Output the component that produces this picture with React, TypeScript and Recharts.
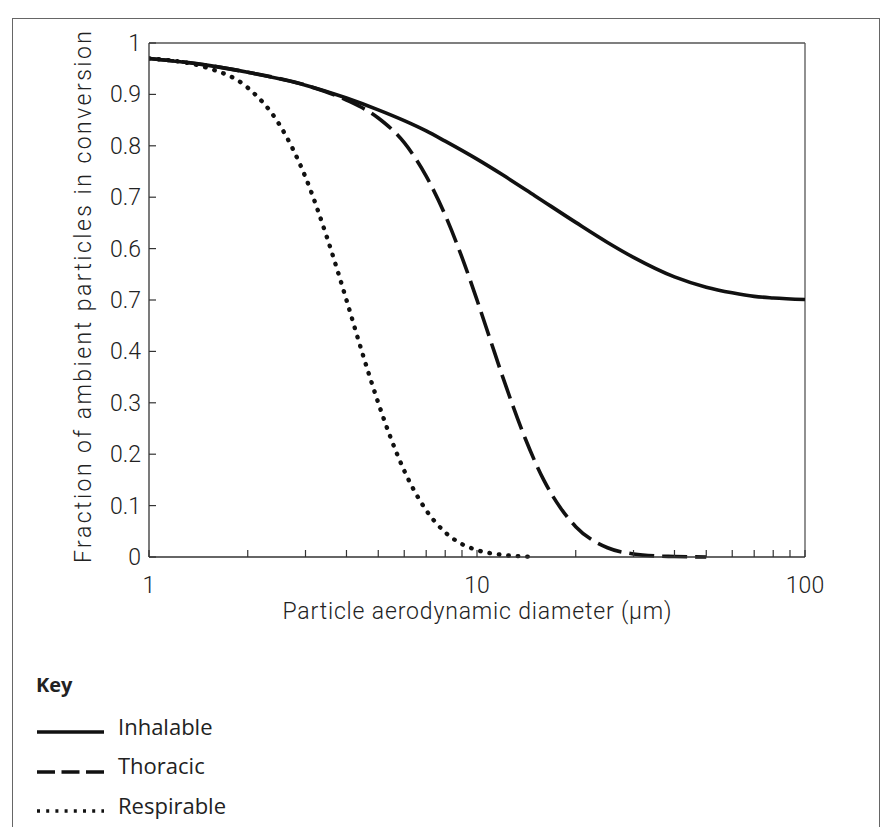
import { LineChart, Line, XAxis, YAxis, ReferenceLine, Legend } from 'recharts';

// particle diameter (µm) vs fraction collected
const inhalable = [
  { d: 1, v: 0.97 }, { d: 1.5, v: 0.957 }, { d: 2, v: 0.943 }, { d: 3, v: 0.918 },
  { d: 4, v: 0.893 }, { d: 5, v: 0.87 }, { d: 6, v: 0.849 }, { d: 7, v: 0.829 },
  { d: 8, v: 0.809 }, { d: 10, v: 0.774 }, { d: 12, v: 0.743 }, { d: 15, v: 0.703 },
  { d: 20, v: 0.651 }, { d: 25, v: 0.612 }, { d: 30, v: 0.583 }, { d: 40, v: 0.545 },
  { d: 50, v: 0.525 }, { d: 60, v: 0.514 }, { d: 70, v: 0.507 }, { d: 80, v: 0.504 },
  { d: 100, v: 0.501 },
];

const thoracic = [
  { d: 1, v: 0.97 }, { d: 1.5, v: 0.957 }, { d: 2, v: 0.943 }, { d: 3, v: 0.918 },
  { d: 4, v: 0.889 }, { d: 5, v: 0.854 }, { d: 6, v: 0.806 }, { d: 7, v: 0.741 },
  { d: 8, v: 0.665 }, { d: 9, v: 0.583 }, { d: 10, v: 0.5 }, { d: 11, v: 0.421 },
  { d: 12, v: 0.349 }, { d: 14, v: 0.232 }, { d: 16, v: 0.149 }, { d: 18, v: 0.095 },
  { d: 20, v: 0.059 }, { d: 25, v: 0.018 }, { d: 30, v: 0.006 }, { d: 35, v: 0.002 },
  { d: 40, v: 0.001 }, { d: 50, v: 0 },
];

const respirable = [
  { d: 1, v: 0.97 }, { d: 1.5, v: 0.952 }, { d: 2, v: 0.913 }, { d: 2.5, v: 0.841 },
  { d: 3, v: 0.739 }, { d: 3.5, v: 0.619 }, { d: 4, v: 0.5 }, { d: 4.5, v: 0.391 },
  { d: 5, v: 0.3 }, { d: 5.5, v: 0.226 }, { d: 6, v: 0.168 }, { d: 7, v: 0.091 },
  { d: 8, v: 0.048 }, { d: 9, v: 0.025 }, { d: 10, v: 0.0135 }, { d: 12, v: 0.004 },
  { d: 14, v: 0.001 }, { d: 15, v: 0 },
];

const xTicks = [1, 2, 3, 4, 5, 6, 7, 8, 9, 10, 20, 30, 40, 50, 60, 70, 80, 90, 100];
const xLabels = [1, 10, 100];
const yTicks = [0, 0.1, 0.2, 0.3, 0.4, 0.5, 0.6, 0.7, 0.8, 0.9, 1];
// labels as printed (the 0.5 position reads 0.7 in the original)
const yLabels = ['0', '0.1', '0.2', '0.3', '0.4', '0.7', '0.6', '0.7', '0.8', '0.9', '1'];

const series = [
  { name: 'Inhalable', data: inhalable, dash: undefined, cap: 'butt', width: 3.6, legendDash: undefined },
  { name: 'Thoracic', data: thoracic, dash: '25 8', cap: 'butt', width: 3.6, legendDash: '18 6.5' },
  { name: 'Respirable', data: respirable, dash: '0.5 9', cap: 'round', width: 4.4, legendDash: '3 6.2' },
];

const AXIS_FONT = 'Roboto, "DejaVu Sans", sans-serif';
const INK = '#111';

const XTick = (props: any) => {
  const { x, y, payload } = props;
  const major = xLabels.includes(payload.value);
  return (
    <g>
      <line x1={x} y1={y} x2={x} y2={y - 7} stroke="#333" strokeWidth={1.2} />
      {major && (
        <text x={x} y={y + 36} textAnchor="middle" fontFamily={AXIS_FONT} fontWeight={300} fontSize={23} fill="#222">
          {payload.value}
        </text>
      )}
    </g>
  );
};

const YTick = (props: any) => {
  const { x, y, payload } = props;
  const i = yTicks.indexOf(payload.value);
  return (
    <g>
      <line x1={x} y1={y} x2={x + 7} y2={y} stroke="#333" strokeWidth={1.2} />
      <text x={x - 8} y={y + 8} textAnchor="end" fontFamily={AXIS_FONT} fontWeight={300} fontSize={23} fill="#222">
        {yLabels[i]}
      </text>
    </g>
  );
};

const KeyLegend = () => (
  <div style={{ fontFamily: '"Open Sans", "Noto Sans", sans-serif', color: '#222' }}>
    <div style={{ fontWeight: 700, fontSize: 20, height: 30, lineHeight: '30px', marginBottom: 6 }}>Key</div>
    {series.map((s) => (
      <div key={s.name} style={{ display: 'flex', alignItems: 'center', height: 39.5 }}>
        <svg width={70} height={20} style={{ marginTop: 13 }}>
          <line x1={1} y1={10} x2={68} y2={10} stroke={INK} strokeWidth={3.4} strokeDasharray={s.legendDash} />
        </svg>
        <span style={{ fontSize: 22, marginLeft: 12 }}>{s.name}</span>
      </div>
    ))}
  </div>
);

export default function App() {
  return (
    <div style={{ position: 'absolute', left: 0, top: 0, width: 885, height: 827, background: '#fff', overflow: 'hidden' }}>
      <div
        style={{
          position: 'absolute', left: 12, top: 18, width: 866, height: 830,
          borderTop: '1.5px solid #666', borderLeft: '1.5px solid #666', borderRight: '1.5px solid #666',
        }}
      />
      <LineChart width={885} height={827} margin={{ top: 43, right: 80, bottom: 210, left: 0 }}>
        <XAxis
          dataKey="d"
          type="number"
          scale="log"
          domain={[1, 100]}
          ticks={xTicks}
          interval={0}
          allowDataOverflow
          height={60}
          tickSize={0}
          tickMargin={0}
          tickLine={false}
          axisLine={{ stroke: '#333', strokeWidth: 1.3 }}
          tick={<XTick />}
          label={{
            content: (p: any) => {
              const vb = p.viewBox;
              return (
                <text x={vb.x + vb.width / 2} y={619} textAnchor="middle" fontFamily={AXIS_FONT} fontWeight={300} fontSize={23} fill="#222" textLength={389} lengthAdjust="spacing">
                  Particle aerodynamic diameter (µm)
                </text>
              );
            },
          }}
        />
        <YAxis
          type="number"
          domain={[0, 1]}
          ticks={yTicks}
          interval={0}
          width={149}
          tickSize={0}
          tickMargin={0}
          tickLine={false}
          axisLine={{ stroke: '#333', strokeWidth: 1.3 }}
          tick={<YTick />}
          label={{
            content: (p: any) => {
              const vb = p.viewBox;
              const cy = vb.y + vb.height / 2 - 3;
              return (
                <text x={91} y={cy} transform={`rotate(-90 91 ${cy})`} textAnchor="middle" fontFamily={AXIS_FONT} fontWeight={300} fontSize={23} fill="#222" textLength={532} lengthAdjust="spacing">
                  Fraction of ambient particles in conversion
                </text>
              );
            },
          }}
        />
        <ReferenceLine y={1} stroke="#555" strokeWidth={1.3} />
        <ReferenceLine x={100} stroke="#555" strokeWidth={1.3} />
        {series.map((s) => (
          <Line
            key={s.name}
            data={s.data}
            dataKey="v"
            name={s.name}
            type="monotone"
            stroke={INK}
            strokeWidth={s.width}
            strokeDasharray={s.dash}
            strokeLinecap={s.cap as any}
            dot={false}
            activeDot={false}
            isAnimationActive={false}
          />
        ))}
        <Legend
          layout="vertical"
          align="center"
          verticalAlign="middle"
          content={<KeyLegend />}
          wrapperStyle={{ left: 36, top: 670, width: 300 }}
        />
      </LineChart>
    </div>
  );
}
